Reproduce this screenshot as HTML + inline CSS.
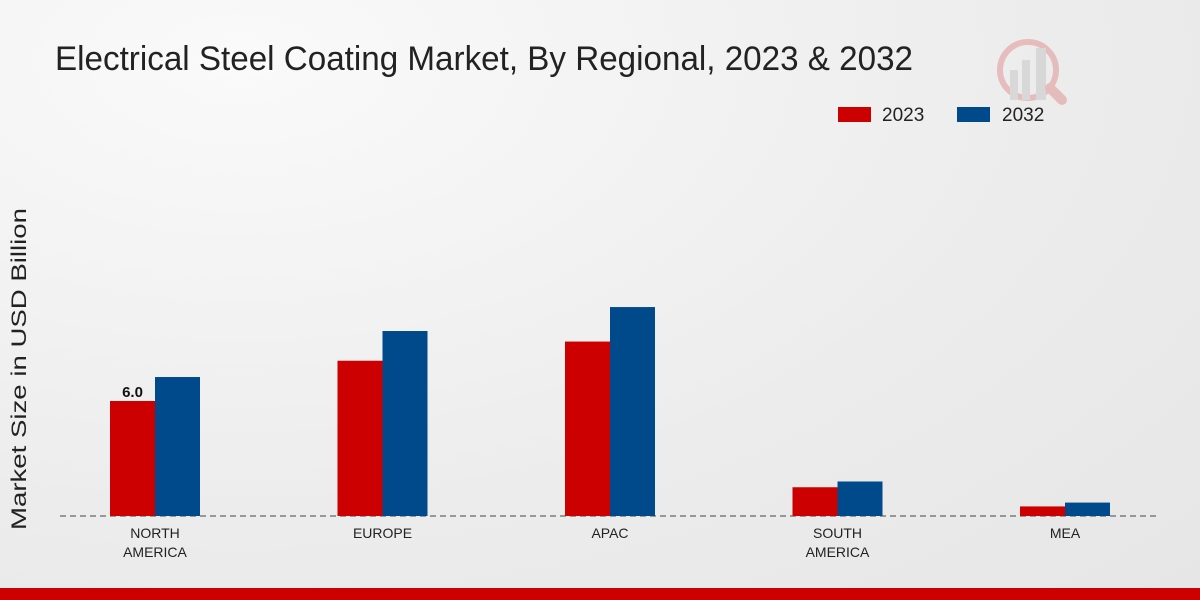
<!DOCTYPE html>
<html><head><meta charset="utf-8"><style>
html,body{margin:0;padding:0;width:1200px;height:600px;overflow:hidden}
body{background:radial-gradient(ellipse at 20% 10%,#fafafa 0%,#ececec 60%,#e6e6e6 100%);font-family:"Liberation Sans",sans-serif}
</style></head><body>
<svg width="1200" height="600" id="chart">
<text x="55" y="70" font-size="34" fill="#222" textLength="858" lengthAdjust="spacingAndGlyphs">Electrical Steel Coating Market, By Regional, 2023 &amp; 2032</text>
<g opacity="0.2">
<circle cx="1028" cy="70" r="28" fill="none" stroke="#c00" stroke-width="6"/>
<rect x="1010" y="70" width="8" height="30" fill="#888"/><rect x="1022" y="60" width="8" height="40" fill="#888"/><rect x="1036" y="48" width="10" height="52" fill="#888"/>
<line x1="1050" y1="88" x2="1062" y2="100" stroke="#c00" stroke-width="10" stroke-linecap="round"/>
</g>
<g>
<rect x="838" y="107" width="33" height="15" fill="#cc0000"/>
<text x="882" y="121" font-size="19" fill="#222">2023</text>
<rect x="957" y="107" width="33" height="15" fill="#004a8c"/>
<text x="1002" y="121" font-size="19" fill="#222">2032</text>
</g>
<text transform="translate(26,369) rotate(-90)" text-anchor="middle" font-size="21" fill="#222" textLength="322" lengthAdjust="spacingAndGlyphs">Market Size in USD Billion</text>
<line x1="60" y1="516" x2="1160" y2="516" stroke="#444" stroke-dasharray="6,4"/>
<g id="bars"></g>
<rect x="0" y="588" width="1200" height="12" fill="#cc0000"/>
</svg>
<script>
const categories=[["NORTH","AMERICA"],["EUROPE"],["APAC"],["SOUTH","AMERICA"],["MEA"]];
const values2023=[6.0,8.1,9.1,1.5,0.5];
const values2032=[7.25,9.65,10.9,1.8,0.7];
const labels2023=["6.0",null,null,null,null];
const base=516, scale=19.17, x0=155, step=227.5, bw=45;
const yPix=v=>base-v*scale;
const xPix=i=>x0+i*step;
const g=document.getElementById('bars');
const ns="http://www.w3.org/2000/svg";
categories.forEach((c,i)=>{
  [[values2023,"#cc0000",-bw,"2023"],[values2032,"#004a8c",0,"2032"]].forEach(([arr,col,off,yr])=>{
    const r=document.createElementNS(ns,'rect');
    r.setAttribute('x',xPix(i)+off);r.setAttribute('width',bw);
    r.setAttribute('y',yPix(arr[i]));r.setAttribute('height',base-yPix(arr[i]));
    r.setAttribute('fill',col);
    
    
    g.appendChild(r);
  });
  if(labels2023[i]){
    const t=document.createElementNS(ns,'text');
    t.setAttribute('x',xPix(i)-bw/2);t.setAttribute('y',yPix(values2023[i])-4);
    t.setAttribute('text-anchor','middle');t.setAttribute('font-size','15');t.setAttribute('font-weight','bold');t.setAttribute('fill','#111');
    t.textContent=labels2023[i];
    
    
    g.appendChild(t);
  }
  c.forEach((line,j)=>{
    const t=document.createElementNS(ns,'text');
    t.setAttribute('x',xPix(i));t.setAttribute('y',538+j*19);
    t.setAttribute('text-anchor','middle');t.setAttribute('font-size','14');t.setAttribute('fill','#222');
    t.textContent=line;
    
    
    g.appendChild(t);
  });
});
</script>
</body></html>
